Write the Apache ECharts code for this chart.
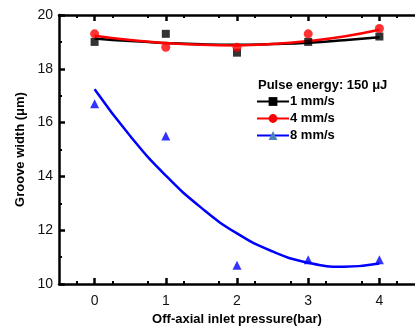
<!DOCTYPE html>
<html><head><meta charset="utf-8">
<script src="https://cdn.jsdelivr.net/npm/echarts@6/dist/echarts.min.js"></script>
<style>html,body{margin:0;padding:0;background:#fff}#c{width:415px;height:331px}</style>
</head><body><div id="c"></div>
<script>
const pressures = [0, 1, 2, 3, 4];
const w1 = [19.0, 19.3, 18.6, 19.0, 19.2];
const w4 = [19.3, 18.8, 18.8, 19.3, 19.5];
const w8 = [16.7, 15.5, 10.7, 10.9, 10.9];
const fitX = [0, 0.5, 1, 1.5, 2, 2.5, 3, 3.5, 4];
const fit1 = [19.13, 19.03, 18.96, 18.91, 18.89, 18.92, 18.97, 19.06, 19.17];
const fit4 = [19.23, 19.07, 18.96, 18.89, 18.87, 18.92, 19.03, 19.20, 19.45];
const fit8 = [17.24, 15.50, 14.03, 12.83, 11.88, 11.21, 10.79, 10.64, 10.76];
const yTicks = [10, 12, 14, 16, 18, 20];
const xTicks = [0, 1, 2, 3, 4];
const names = ['1 mm/s', '4 mm/s', '8 mm/s'];
const colors = ['#000000', '#ff0000', '#0000ff'];
const symbols = ['rect', 'circle', 'triangle'];

const pairs = (xs, ys) => xs.map((x, i) => [x, ys[i]]);
const font = 'Arial, "Liberation Sans", sans-serif';
const chart = echarts.init(document.getElementById('c'));
const axisCommon = {
  type: 'value', min: -0.5, max: 4.5, interval: 0.5,
  axisLine: { onZero: false, lineStyle: { color: '#000', width: 2.5 } },
  axisTick: { inside: true, length: 6, lineStyle: { width: 2.5, color: '#000' }, customValues: xTicks },
  minorTick: { show: true, splitNumber: 2, length: 3, lineStyle: { width: 2, color: '#000' } },
  splitLine: { show: false }
};
const fits = [fit1, fit4, fit8];
const pts = [w1, w4, w8];
const series = [];
for (let i = 0; i < 3; i++) {
  series.push({
    name: names[i], type: 'line', smooth: true, data: pairs(fitX, fits[i]),
    showSymbol: false, symbol: symbols[i], symbolSize: 10,
    lineStyle: { color: colors[i], width: 2.5 }, itemStyle: { color: colors[i] },
    z: 2, silent: true
  });
  series.push({
    name: names[i] + ' pts', type: 'scatter', data: pairs(pressures, pts[i]),
    symbol: symbols[i], symbolSize: i === 0 ? 8 : 9,
    itemStyle: { color: colors[i] }, z: 3
  });
}
chart.setOption({
  animation: false,
  textStyle: { fontFamily: font },
  grid: { left: 59, top: 15, bottom: 47, width: 360 },
  title: {
    text: 'Pulse energy: 150 μJ', left: 253, top: 74,
    textStyle: { fontSize: 13, fontWeight: 'bold', color: '#000', fontFamily: font }
  },
  legend: {
    left: 251, top: 90, orient: 'vertical', itemGap: 4, itemWidth: 32, itemHeight: 11,
    textStyle: { fontSize: 13, fontWeight: 'bold', color: '#000', fontFamily: font, padding: [0, 0, 0, -4] },
    data: [
      { name: '1 mm/s' },
      { name: '4 mm/s' },
      { name: '8 mm/s', itemStyle: { color: '#4f81bd' } }
    ]
  },
  xAxis: [
    Object.assign({}, axisCommon, {
      position: 'bottom',
      name: 'Off-axial inlet pressure(bar)', nameLocation: 'middle', nameGap: 29,
      nameTextStyle: { fontSize: 13, fontWeight: 'bold', color: '#000', fontFamily: font },
      axisLabel: { customValues: xTicks, fontSize: 14, color: '#111', margin: 10, fontFamily: font }
    }),
    Object.assign({}, axisCommon, { position: 'top', axisLabel: { show: false } })
  ],
  yAxis: {
    type: 'value', min: 10, max: 20, interval: 2,
    name: 'Groove width (μm)', nameLocation: 'middle', nameGap: 31, nameRotate: 90,
    nameTextStyle: { fontSize: 13, fontWeight: 'bold', color: '#000', fontFamily: font },
    axisLine: { show: true, onZero: false, lineStyle: { color: '#000', width: 2.5 } },
    axisTick: { show: true, inside: true, length: 6, lineStyle: { width: 2.5, color: '#000' } },
    minorTick: { show: true, splitNumber: 2, length: 3, lineStyle: { width: 2, color: '#000' } },
    axisLabel: { fontSize: 14, color: '#111', margin: 6, fontFamily: font },
    splitLine: { show: false }
  },
  series: series
});
</script></body></html>
